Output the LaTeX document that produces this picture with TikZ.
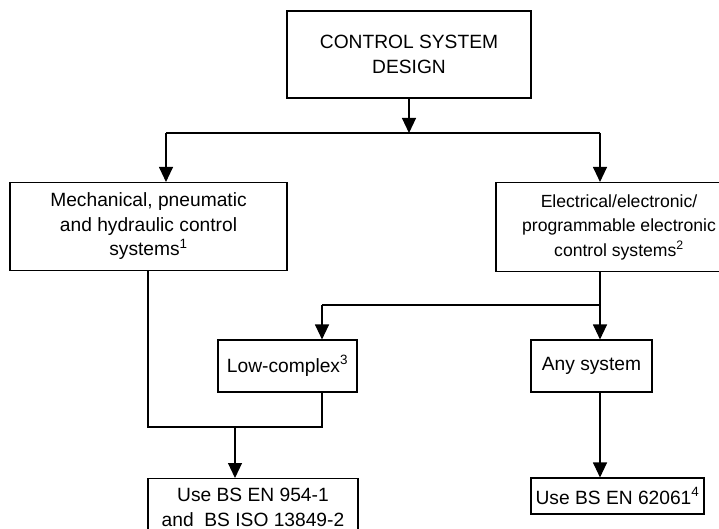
\documentclass[tikz,border=0pt]{standalone}
\usepackage{fontspec}
\setmainfont{Liberation Sans}
\usetikzlibrary{arrows.meta}
\begin{document}
\begin{tikzpicture}[x=1pt,y=-1pt,
  box/.style={draw, line width=1.1pt, align=center, inner sep=0pt,
    font=\fontsize{19.2}{24.5}\selectfont},
  link/.style={line width=1.1pt},
  arr/.style={link, -{Triangle[length=15pt,width=14pt]}}]
\useasboundingbox (0,0) rectangle (719,529);
\clip (0,0) rectangle (719,529);

% boxes
\node[box, minimum width=244pt, minimum height=87pt] (top) at (409,54.5)
  {CONTROL SYSTEM\\DESIGN};
\node[box, minimum width=277pt, minimum height=88pt] (mech) at (148.5,226.5)
  {Mechanical, pneumatic\\and hydraulic control\\systems\textsuperscript{1}};
\node[box, minimum width=246pt, minimum height=89pt,
  font=\fontsize{17.6}{24.5}\selectfont] (elec) at (619,227)
  {Electrical/electronic/\\programmable electronic\\control systems\textsuperscript{2}};
\node[box, minimum width=139pt, minimum height=52pt] (low) at (287.5,366)
  {Low-complex\textsuperscript{3}};
\node[box, minimum width=121pt, minimum height=52pt] (any) at (591.5,366)
  {Any system};
\node[box, minimum width=210pt, minimum height=58pt, anchor=north] (bs1) at (253,478)
  {Use BS EN 954-1\\and\ \ BS ISO 13849-2};
\node[box, minimum width=173pt, minimum height=36pt] (bs2) at (617.5,496)
  {Use BS EN 62061\textsuperscript{4}};

% junction points
\coordinate (j0) at (409,133);
\coordinate (jl) at (166,133);
\coordinate (jr) at (600,133);
\coordinate (e0) at (600,305);
\coordinate (el) at (322,305);
\coordinate (ml) at (148,427);
\coordinate (mr) at (322,427);
\coordinate (mm) at (235,427);

% top split
\draw[arr] (top.south) -- (j0);
\draw[link] (jl) -- (jr);
\draw[arr] (jl) -- (jl |- mech.north);
\draw[arr] (jr) -- (jr |- elec.north);

% electrical branch
\draw[link] (e0 |- elec.south) -- (e0) -- (el);
\draw[arr] (el) -- (el |- low.north);
\draw[arr] (e0) -- (e0 |- any.north);
\draw[arr] (e0 |- any.south) -- (e0 |- bs2.north);

% merge into the lower-left standards box
\draw[link] (ml |- mech.south) -- (ml) -- (mr) -- (mr |- low.south);
\draw[arr] (mm) -- (mm |- bs1.north);
\end{tikzpicture}
\end{document}
